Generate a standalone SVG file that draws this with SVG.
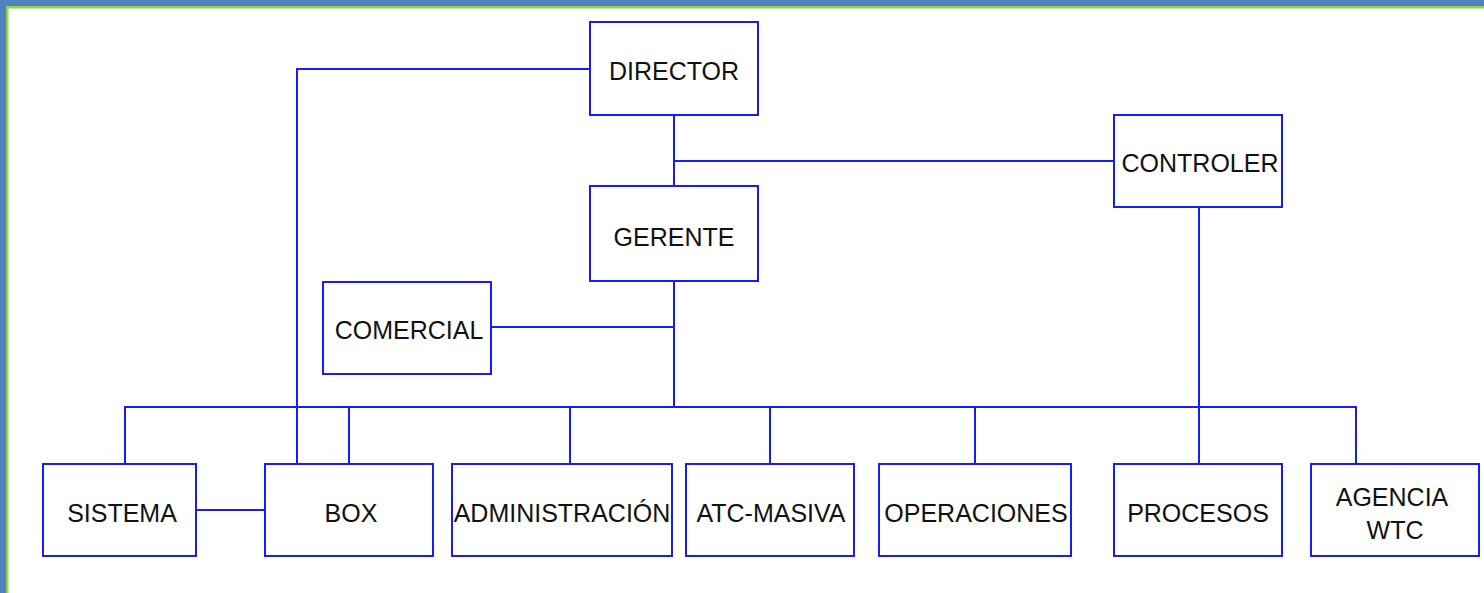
<svg xmlns="http://www.w3.org/2000/svg" width="1484" height="593" viewBox="0 0 1484 593">
<style>
.box{fill:#fff;stroke:#1a1aff;stroke-width:2}
.lbl{font-family:"Liberation Sans",Arial,sans-serif;font-size:25px;fill:#111;text-anchor:middle}
.con{fill:none;stroke:#1a1aff;stroke-width:2}
</style>
<rect x="0" y="0" width="1484" height="593" fill="#fff"/>
<rect x="0" y="0" width="1484" height="6" fill="#4f81bd"/>
<rect x="0" y="0" width="6" height="593" fill="#4f81bd"/>
<rect x="6" y="6" width="1478" height="2.5" fill="#92d050"/>
<rect x="6" y="6" width="2.5" height="587" fill="#92d050"/>
<g id="connectors">
<path class="con" d="M674 115V186"/>
<path class="con" d="M674 161H1114"/>
<path class="con" d="M674 281V407"/>
<path class="con" d="M491 327H674"/>
<path class="con" d="M125 464V407H1356V464"/>
<path class="con" d="M349 407V464"/>
<path class="con" d="M570 407V464"/>
<path class="con" d="M770 407V464"/>
<path class="con" d="M975 407V464"/>
<path class="con" d="M590 69H297V464"/>
<path class="con" d="M1199 207V464"/>
<path class="con" d="M196 510H265"/>
</g>
<g id="director"><rect class="box" x="590" y="22" width="168" height="93"/><text class="lbl" x="674" y="80">DIRECTOR</text></g>
<g id="gerente"><rect class="box" x="590" y="186" width="168" height="95"/><text class="lbl" x="674" y="246">GERENTE</text></g>
<g id="controler"><rect class="box" x="1114" y="115" width="168" height="92"/><text class="lbl" x="1200" y="172">CONTROLER</text></g>
<g id="comercial"><rect class="box" x="323" y="282" width="168" height="92"/><text class="lbl" x="409" y="339">COMERCIAL</text></g>
<g id="sistema"><rect class="box" x="43" y="464" width="153" height="92"/><text class="lbl" x="122" y="522">SISTEMA</text></g>
<g id="box"><rect class="box" x="265" y="464" width="168" height="92"/><text class="lbl" x="351" y="522">BOX</text></g>
<g id="administracion"><rect class="box" x="452" y="464" width="220" height="92"/><text class="lbl" x="562" y="522">ADMINISTRACIÓN</text></g>
<g id="atc-masiva"><rect class="box" x="686" y="464" width="168" height="92"/><text class="lbl" x="771" y="522">ATC-MASIVA</text></g>
<g id="operaciones"><rect class="box" x="879" y="464" width="192" height="92"/><text class="lbl" x="976" y="522">OPERACIONES</text></g>
<g id="procesos"><rect class="box" x="1114" y="464" width="168" height="92"/><text class="lbl" x="1198" y="522">PROCESOS</text></g>
<g id="agencia-wtc"><rect class="box" x="1311" y="464" width="168" height="92"/><text class="lbl" x="1392" y="506">AGENCIA</text><text class="lbl" x="1395" y="539">WTC</text></g>
</svg>
